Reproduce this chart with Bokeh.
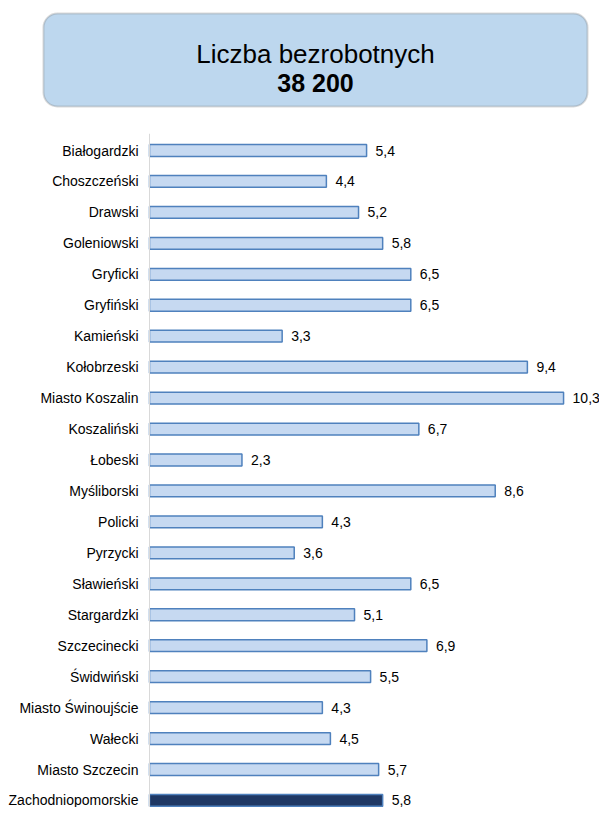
from bokeh.plotting import figure
from bokeh.models import ColumnDataSource, Range1d, BoxAnnotation, Label, Span
from bokeh.layouts import column
from bokeh.core.properties import value
from bokeh.embed import file_html
from bokeh.resources import INLINE

title_text = "Liczba bezrobotnych"
total_text = "38 200"

categories = ["Białogardzki", "Choszczeński", "Drawski", "Goleniowski", "Gryficki",
              "Gryfiński", "Kamieński", "Kołobrzeski", "Miasto Koszalin", "Koszaliński",
              "Łobeski", "Myśliborski", "Policki", "Pyrzycki", "Sławieński",
              "Stargardzki", "Szczecinecki", "Świdwiński", "Miasto Świnoujście", "Wałecki",
              "Miasto Szczecin", "Zachodniopomorskie"]
values = [5.4, 4.4, 5.2, 5.8, 6.5, 6.5, 3.3, 9.4, 10.3, 6.7,
          2.3, 8.6, 4.3, 3.6, 6.5, 5.1, 6.9, 5.5, 4.3, 4.5,
          5.7, 5.8]

FONT = "Liberation Sans"
W = 599
TOP_H = 133
BAR_H = 807 - TOP_H
AXIS_X = 149          # pixel position of the value axis
PX_PER_UNIT = 40.2
STEP = 30.95          # pixels per category
FIRST = 17            # centre of first bar below plot top

# ---- title box figure ----
t = figure(width=W, height=TOP_H, output_backend="svg", toolbar_location=None,
           x_range=Range1d(0, W), y_range=Range1d(TOP_H, 0),
           min_border=0, outline_line_color=None)
t.axis.visible = False
t.grid.visible = False
box = BoxAnnotation(left=43, right=587, top=13, bottom=106,
                    fill_color="#BDD7EE", fill_alpha=1.0,
                    line_color="#7F7F7F", line_width=2, border_radius=14)
t.add_layout(box)
t.add_layout(Label(x=315, y=53, text=title_text, text_align="center",
                   text_baseline="alphabetic", text_font=FONT,
                   text_font_size="26px", text_color="#000000"))
t.add_layout(Label(x=315, y=82, text=total_text, text_align="center",
                   text_baseline="alphabetic", text_font=FONT,
                   text_font_size="25px", text_font_style="bold",
                   text_color="#000000"))

# ---- bar chart ----
idx = list(range(len(categories)))
fills = ["#C6D9F1"] * (len(categories) - 1) + ["#1F3864"]
labels = [f"{v:.1f}".replace(".", ",") for v in values]
src = ColumnDataSource(dict(y=idx, v=values, fill=fills, lab=labels, cat=categories))

y_top = -FIRST / STEP
y_bottom = y_top + BAR_H / STEP
p = figure(width=W, height=BAR_H, output_backend="svg", toolbar_location=None,
           x_range=Range1d(-AXIS_X / PX_PER_UNIT, (W - AXIS_X) / PX_PER_UNIT),
           y_range=Range1d(y_bottom, y_top),
           min_border=0, outline_line_color=None)
p.grid.visible = False
p.axis.visible = False

p.add_layout(Span(location=0, dimension="height", line_color="#D9D9D9", line_width=1))

p.hbar(y="y", left=0, right="v", height=0.38, source=src,
       fill_color="fill", line_color="#4F81BD", line_width=1.5)
p.text(x="v", y="y", text="lab", source=src, x_offset=9,
       text_align="left", text_baseline="middle",
       text_font=value(FONT), text_font_size="14px", text_color="#000000")
p.text(x=0, y="y", text="cat", source=src, x_offset=-11,
       text_align="right", text_baseline="middle",
       text_font=value(FONT), text_font_size="14px", text_color="#000000")

layout = column(t, p, spacing=0)
open("out.html", "w").write(file_html(layout, INLINE))
